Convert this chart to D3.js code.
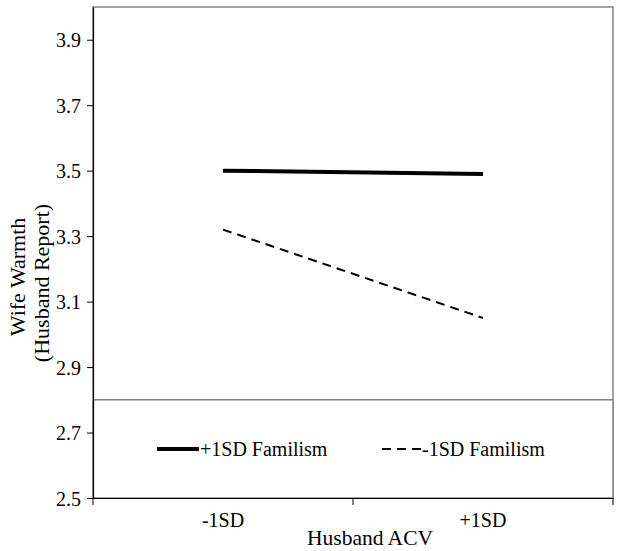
<!DOCTYPE html>
<html><head><meta charset="utf-8">
<script src="https://cdn.jsdelivr.net/npm/d3@7"></script>
<style>body{margin:0;background:#fff}svg{display:block}text{font-family:"Liberation Serif","Times New Roman",serif;fill:#000}</style>
</head><body>
<svg id="c" width="621" height="551"></svg>
<script>
const categories = ["-1SD", "+1SD"];
const seriesNames = ["+1SD Familism", "-1SD Familism"];
const highFamilism = [3.50, 3.49];
const lowFamilism = [3.32, 3.05];
const yTicks = [2.5, 2.7, 2.9, 3.1, 3.3, 3.5, 3.7, 3.9];

const svg = d3.select("#c");
const m = {l: 93, r: 613, t: 7, b: 498};
const x = d3.scaleBand().domain(categories).range([m.l, m.r]);
const y = d3.scaleLinear().domain([2.5, 4.0]).range([m.b, m.t]);

// plot border (gray)
svg.append("rect").attr("x", m.l).attr("y", m.t).attr("width", m.r - m.l).attr("height", m.b - m.t)
  .attr("fill", "none").attr("stroke", "#858585").attr("stroke-width", 1.5);

// legend box
const legTop = y(2.8);
svg.append("rect").attr("x", m.l).attr("y", legTop).attr("width", m.r - m.l).attr("height", m.b - legTop)
  .attr("fill", "#fff").attr("stroke", "#858585").attr("stroke-width", 1.5);

// Y axis
const ya = svg.append("g").attr("transform", `translate(${m.l},0)`)
  .call(d3.axisLeft(y).tickValues(yTicks).tickFormat(d3.format(".1f")).tickSize(6).tickSizeOuter(0));
ya.select(".domain").attr("stroke", "#000").attr("stroke-width", 1.2);
ya.selectAll(".tick line").attr("stroke", "#000");
ya.selectAll(".tick text").attr("font-size", 20).attr("x", -12).attr("dy", "0.35em")
  .style("font-family", "'Liberation Serif',serif");

// X axis
const xa = svg.append("g").attr("transform", `translate(0,${m.b})`)
  .call(d3.axisBottom(x).tickSize(0).tickSizeOuter(0));
xa.select(".domain").attr("stroke", "#000").attr("stroke-width", 1.2);
xa.selectAll(".tick text").attr("font-size", 20).attr("y", 22).attr("dy", "0.35em")
  .style("font-family", "'Liberation Serif',serif");
// boundary ticks
const bounds = [x(categories[0]), x(categories[1]), x(categories[1]) + x.bandwidth()];
xa.selectAll(".btick").data(bounds).join("line").attr("class", "btick")
  .attr("x1", d => d).attr("x2", d => d).attr("y1", 0).attr("y2", 7).attr("stroke", "#000");

// lines
const line = d3.line().x((d, i) => x(categories[i]) + x.bandwidth() / 2).y(d => y(d));
svg.append("path").datum(highFamilism).attr("d", line).attr("fill", "none")
  .attr("stroke", "#000").attr("stroke-width", 4);
svg.append("path").datum(lowFamilism).attr("d", line).attr("fill", "none")
  .attr("stroke", "#000").attr("stroke-width", 2).attr("stroke-dasharray", "9,6");

// legend
const legY = 449;
const leg = [
  {name: seriesNames[0], x0: 157, x1: 199, w: 4, dash: null},
  {name: seriesNames[1], x0: 382, x1: 421, w: 2, dash: "9,6"}
];
leg.forEach(l => {
  svg.append("line").attr("x1", l.x0).attr("x2", l.x1).attr("y1", legY).attr("y2", legY)
    .attr("stroke", "#000").attr("stroke-width", l.w).attr("stroke-dasharray", l.dash);
  svg.append("text").attr("x", l.x1 + 1).attr("y", legY).attr("dy", "0.35em")
    .attr("font-size", 20).text(l.name);
});

// axis titles
svg.append("text").attr("x", (m.l + m.r) / 2 + 17).attr("y", 545).attr("text-anchor", "middle")
  .attr("font-size", 21.5).text("Husband ACV");
svg.append("text").attr("transform", "translate(25,277) rotate(-90)").attr("text-anchor", "middle")
  .attr("font-size", 22).text("Wife Warmth");
svg.append("text").attr("transform", "translate(49,283) rotate(-90)").attr("text-anchor", "middle")
  .attr("font-size", 22).text("(Husband Report)");
</script>
</body></html>
